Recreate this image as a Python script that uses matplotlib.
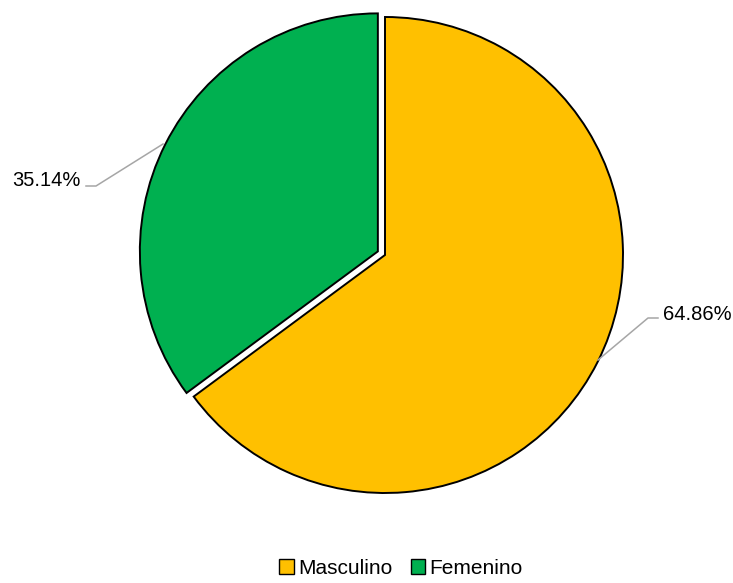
import matplotlib
matplotlib.use("Agg")
import matplotlib.pyplot as plt
from matplotlib.patches import Patch

# Data
categories = ["Masculino", "Femenino"]
values = [64.86, 35.14]
colors = ["#FFC000", "#00B050"]

W, H = 733, 583
plt.rcParams["font.family"] = ["Liberation Sans", "DejaVu Sans"]

fig = plt.figure(figsize=(W / 100, H / 100), dpi=100)
ax = fig.add_axes([0, 0, 1, 1])

# pie centre / radius in pixel units (y measured from bottom)
cx, cy, r = 385, H - 255, 238
# explode is in data units here (radius is not 1), so 8 px
wedges, _ = ax.pie(
    values,
    colors=colors,
    startangle=90,
    counterclock=False,
    explode=[0, 8],
    center=(cx, cy),
    radius=r,
    frame=True,
    wedgeprops=dict(edgecolor="black", linewidth=1.4),
)
ax.set_xlim(0, W)
ax.set_ylim(0, H)
ax.set_aspect("equal")
ax.axis("off")

labels = [f"{v:.2f}%" for v in values]
lc = "#A6A6A6"

# leader lines + labels
ax.plot([598, 648, 658], [H - 360, H - 318, H - 318], color=lc, lw=1.1)
ax.text(663, H - 314, labels[0], ha="left", va="center", fontsize=14.5)

ax.plot([163, 96, 86], [H - 144, H - 186, H - 186], color=lc, lw=1.1)
ax.text(81, H - 180, labels[1], ha="right", va="center", fontsize=14.5)

handles = [Patch(facecolor=c, edgecolor="black", linewidth=1.0) for c in colors]
fig.legend(
    handles,
    categories,
    loc="center",
    bbox_to_anchor=(401 / W, 1 - 568 / H),
    ncol=2,
    frameon=False,
    fontsize=15,
    handlelength=0.7,
    handleheight=0.7,
    handletextpad=0.2,
    columnspacing=0.9,
)

fig.savefig("out.png", dpi=100)
